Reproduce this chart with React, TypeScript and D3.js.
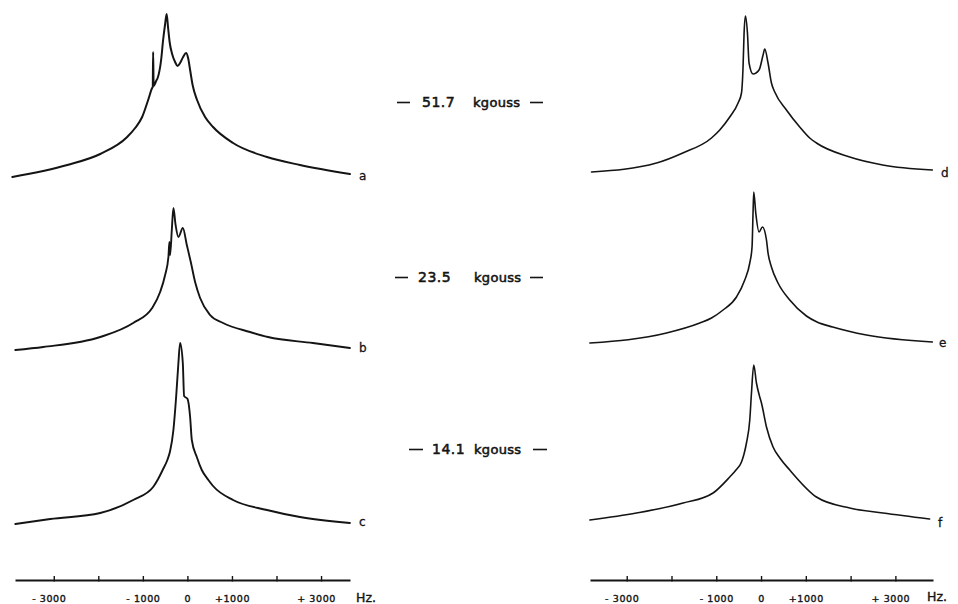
import React, { useEffect, useRef } from 'react';
import * as d3 from 'd3';

// ---------- data ----------
const tickValues = [-3000, -2000, -1000, 0, 1000, 2000, 3000];
const tickLabels = ['- 3000', '', '- 1000', '0', '+1000', '', '+ 3000'];
const fieldLabels = ['51.7', '23.5', '14.1'];
const unitLabel = 'kgouss';
const traceLabels = ['a', 'b', 'c', 'd', 'e', 'f'];
const axisUnit = 'Hz.';

// spectra: [frequency offset (Hz), intensity (arb. units)]
const specA: [number, number][] = [
  [-3930, 3], [-2697, 15], [-1957, 26], [-1352, 43], [-1173, 52], [-1016, 63], [-881, 80],
  [-791, 92], [-778, 93], [-769, 128], [-758, 94], [-702, 99], [-668, 102], [-590, 120],
  [-545, 140], [-500, 156], [-466, 166], [-433, 152], [-399, 138], [-343, 126], [-276, 118],
  [-220, 114], [-164, 117], [-96, 123], [-29, 127], [16, 122], [61, 110], [117, 95],
  [217, 80], [397, 63], [576, 53], [1025, 37], [1787, 23], [2527, 15], [3648, 6],
];
const specB: [number, number][] = [
  [-3863, 2], [-3235, 5], [-1957, 15], [-1217, 29], [-791, 44], [-612, 60], [-500, 77],
  [-426, 95], [-404, 110], [-388, 97], [-350, 122], [-314, 144], [-265, 127], [-202, 115],
  [-103, 124], [-13, 107], [76, 90], [173, 70], [285, 54], [509, 37], [800, 29],
  [1406, 20], [1809, 15], [2818, 9], [3648, 4],
];
const specC: [number, number][] = [
  [-3863, 2], [-3078, 7], [-1957, 13], [-1217, 26], [-769, 39], [-657, 47], [-545, 57],
  [-450, 66], [-388, 75], [-314, 96], [-253, 129], [-202, 163], [-164, 183], [-103, 163],
  [-74, 130], [4, 127], [61, 109], [99, 86], [211, 69], [323, 56], [471, 46], [576, 40],
  [1025, 26], [1787, 16], [2527, 9], [3648, 3],
];
const specD: [number, number][] = [
  [-3786, 4], [-2335, 13], [-1748, 23], [-1107, 38], [-922, 46], [-699, 59], [-513, 73],
  [-437, 83], [-402, 109], [-379, 143], [-348, 160], [-304, 143], [-268, 113], [-179, 102],
  [-45, 106], [45, 121], [83, 127], [156, 113], [232, 93], [306, 84], [567, 66], [864, 49],
  [1087, 38], [1237, 33], [1980, 19], [2716, 11], [3826, 6],
];
const specE: [number, number][] = [
  [-3823, 3], [-2112, 13], [-1368, 23], [-1107, 28], [-848, 36], [-549, 49], [-364, 66],
  [-252, 83], [-201, 99], [-179, 133], [-163, 154], [-118, 133], [-45, 114], [31, 119],
  [121, 106], [156, 93], [232, 79], [379, 63], [641, 46], [1013, 30], [1250, 24], [1600, 19],
  [2353, 11], [3826, 4],
];
const specF: [number, number][] = [
  [-3823, 4], [-2781, 11], [-1741, 21], [-1071, 31], [-699, 47], [-560, 54], [-437, 62],
  [-380, 70], [-326, 81], [-252, 104], [-214, 131], [-163, 159], [-103, 141], [-29, 127],
  [9, 121], [121, 97], [268, 77], [420, 66], [641, 54], [1237, 27], [1980, 16], [2723, 11],
  [3765, 5],
];

// ---------- layout ----------
const W = 958;
const H = 604;
const INK = '#141414';
const FONT = '"DejaVu Sans", "Noto Sans", sans-serif';
const AXIS_Y = 580;

const xLeft = d3.scaleLinear().domain([-3870, 3650]).range([15, 350]);
const xRight = d3.scaleLinear().domain([-3820, 3840]).range([590, 933]);

const panels = [
  { data: specA, x: xLeft, base: 180, label: traceLabels[0], lx: 359, ly: 180, sw: 2.0 },
  { data: specB, x: xLeft, base: 352, label: traceLabels[1], lx: 359, ly: 352, sw: 1.9 },
  { data: specC, x: xLeft, base: 526, label: traceLabels[2], lx: 359, ly: 526, sw: 1.9 },
  { data: specD, x: xRight, base: 176, label: traceLabels[3], lx: 941, ly: 177, sw: 1.6 },
  { data: specE, x: xRight, base: 346, label: traceLabels[4], lx: 939, ly: 347, sw: 1.6 },
  { data: specF, x: xRight, base: 524, label: traceLabels[5], lx: 938, ly: 527, sw: 1.6 },
];

const centerRows = [
  { y: 107, d1: [397, 410], num: 422, unit: 473, d2: [530, 543] },
  { y: 282, d1: [395, 408], num: 418, unit: 474, d2: [530, 543] },
  { y: 454, d1: [409, 423], num: 432, unit: 474, d2: [533, 547] },
];

function Axis({ scale }: { scale: d3.ScaleLinear<number, number> }) {
  const ref = useRef<SVGGElement>(null);
  useEffect(() => {
    if (!ref.current) return;
    const axis = d3
      .axisBottom(scale)
      .tickValues(tickValues)
      .tickFormat((_d, i) => tickLabels[i])
      .tickSizeInner(-4)
      .tickSizeOuter(0)
      .tickPadding(15);
    const g = d3.select(ref.current);
    g.call(axis as any);
    g.attr('font-family', FONT).attr('font-size', 9.5);
    g.select('.domain').attr('stroke', INK).attr('stroke-width', 2);
    g.selectAll('.tick line').attr('stroke', INK).attr('stroke-width', 1.4).attr('y1', 1.5);
    g.selectAll<SVGTextElement, number>('.tick text')
      .attr('fill', INK)
      .attr('stroke', INK)
      .attr('stroke-width', 0.4)
      .attr('letter-spacing', 0.6)
      .attr('dx', (d) => (Math.abs(d) === 3000 ? -5 : 0));
  }, [scale]);
  return <g ref={ref} transform={`translate(0,${AXIS_Y})`} />;
}

export default function App() {
  return (
    <svg
      width={W}
      height={H}
      viewBox={`0 0 ${W} ${H}`}
      style={{ position: 'absolute', left: 0, top: 0, background: '#fff' }}
    >
      <rect x={0} y={0} width={W} height={H} fill="#fff" />
      {panels.map((p, i) => {
        const y = d3.scaleLinear().domain([0, 200]).range([p.base, p.base - 200]);
        const line = d3
          .line<[number, number]>()
          .x((d) => p.x(d[0]))
          .y((d) => y(d[1]))
          .curve(d3.curveMonotoneX);
        return (
          <g key={i}>
            <path
              d={line(p.data) || ''}
              fill="none"
              stroke={INK}
              strokeWidth={p.sw}
              strokeLinejoin="round"
              strokeLinecap="round"
            />
            <text
              x={p.lx}
              y={p.ly}
              fontFamily={FONT}
              fontSize={12}
              fill={INK}
              stroke={INK}
              strokeWidth={0.3}
            >
              {p.label}
            </text>
          </g>
        );
      })}

      {centerRows.map((r, i) => (
        <g key={i} fill={INK} fontFamily={FONT}>
          <line x1={r.d1[0]} x2={r.d1[1]} y1={r.y - 4.5} y2={r.y - 4.5} stroke={INK} strokeWidth={1.6} />
          <text x={r.num} y={r.y} fontSize={14} stroke={INK} strokeWidth={0.55} letterSpacing={0.5}>
            {fieldLabels[i]}
          </text>
          <text x={r.unit} y={r.y} fontSize={13} stroke={INK} strokeWidth={0.55} letterSpacing={0.3}>
            {unitLabel}
          </text>
          <line x1={r.d2[0]} x2={r.d2[1]} y1={r.y - 4.5} y2={r.y - 4.5} stroke={INK} strokeWidth={1.6} />
        </g>
      ))}

      <Axis scale={xLeft} />
      <Axis scale={xRight} />

      <text x={356} y={602} fontFamily={FONT} fontSize={12.5} fill={INK} stroke={INK} strokeWidth={0.4}>
        {axisUnit}
      </text>
      <text x={927} y={601} fontFamily={FONT} fontSize={12.5} fill={INK} stroke={INK} strokeWidth={0.4}>
        {axisUnit}
      </text>
    </svg>
  );
}
